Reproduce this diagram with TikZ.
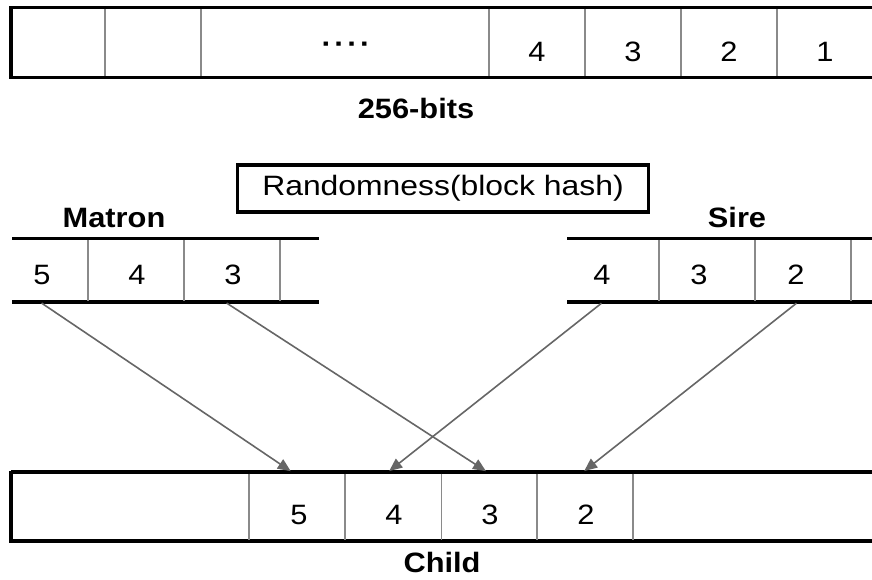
\documentclass[tikz,border=0pt]{standalone}
\usepackage{fontspec}
\usepackage{graphicx}
\setmainfont{Liberation Sans}[FakeStretch=1.1]
\usetikzlibrary{arrows.meta}
\definecolor{divgray}{HTML}{8A8A8A}
\definecolor{arrgray}{HTML}{666666}
\begin{document}
\begin{tikzpicture}[x=1pt,y=-1pt,
  bar/.style={line width=3.3pt, black},
  divider/.style={line width=1.2pt, divgray},
  digit/.style={anchor=base, inner sep=0pt, font=\fontsize{28}{30}\selectfont},
  boldtext/.style={anchor=base, inner sep=0pt, font=\fontsize{28}{30}\selectfont\bfseries},
  cellbox/.style={inner sep=0pt, outer sep=0pt, minimum width=96pt},
  arr/.style={line width=1.6pt, arrgray, shorten <=2pt, shorten >=1.5pt,
    -{Triangle[length=13pt,width=11pt]}},
]
\useasboundingbox (0,0) rectangle (872,579);

% ---------- top 256-bit bar ----------
\draw[bar] (11,7.5) -- (872,7.5);
\draw[bar] (11,77.5) -- (872,77.5);
\draw[bar] (11,6) -- (11,79);
\foreach \x in {105,201,489,585,681,777} \draw[divider] (\x,9) -- (\x,76);
\node[digit] (t4) at (537,61) {4};
\node[digit] (t3) at (633,61) {3};
\node[digit] (t2) at (729,61) {2};
\node[digit] (t1) at (825,61) {1};
\node[boldtext] (tdots) at (346,53) {·\kern2.6pt·\kern2.6pt·\kern2.6pt·};
\node[boldtext] (bits) at (416,118) {256-bits};

% ---------- randomness box ----------
\node[draw, line width=3.3pt, inner sep=0pt, minimum width=411pt, minimum height=47pt,
  font=\fontsize{28}{30}\selectfont] (rand) at (443,188.5)
  {\scalebox{1.035}[1]{Randomness(block hash)}};

% ---------- matron ----------
\node[boldtext] (matron) at (114,227) {Matron};
\draw[bar] (12,238.5) -- (319,238.5);
\draw[bar] (12,302) -- (319,302);
\foreach \x in {88,184,280} \draw[divider] (\x,240) -- (\x,300.5);
\node[cellbox, minimum height=63.5pt] (m5) at (41,270.25) {};
\node[cellbox, minimum height=63.5pt] (m4) at (136,270.25) {};
\node[cellbox, minimum height=63.5pt] (m3) at (232,270.25) {};
\node[digit] (m5t) at (42,284) {5};
\node[digit] (m4t) at (137,284) {4};
\node[digit] (m3t) at (233,284) {3};

% ---------- sire ----------
\node[boldtext] (sire) at (737,227) {Sire};
\draw[bar] (567,238.5) -- (872,238.5);
\draw[bar] (567,302) -- (872,302);
\foreach \x in {659,755,851} \draw[divider] (\x,240) -- (\x,300.5);
\node[cellbox, minimum height=63.5pt] (s4) at (613,270.25) {};
\node[cellbox, minimum height=63.5pt] (s3) at (707,270.25) {};
\node[cellbox, minimum height=63.5pt] (s2) at (803,270.25) {};
\node[digit] (s4t) at (602,284) {4};
\node[digit] (s3t) at (699,284) {3};
\node[digit] (s2t) at (796,284) {2};

% ---------- child ----------
\draw[bar] (11,472) -- (872,472);
\draw[bar] (11,541) -- (872,541);
\draw[bar] (11,470.5) -- (11,542.5);
\foreach \x in {249,345,441.5,537,633} \draw[divider] (\x,473.5) -- (\x,539.5);
\node[cellbox, minimum height=69pt] (c5) at (297,506.5) {};
\node[cellbox, minimum height=69pt] (c4) at (393,506.5) {};
\node[cellbox, minimum height=69pt] (c3) at (489.25,506.5) {};
\node[cellbox, minimum height=69pt] (c2) at (585,506.5) {};
\node[digit] (c5t) at (299,524) {5};
\node[digit] (c4t) at (394,524) {4};
\node[digit] (c3t) at (490,524) {3};
\node[digit] (c2t) at (586,524) {2};
\node[boldtext] (child) at (442,572) {Child};

% ---------- arrows ----------
\draw[arr] ([xshift=-1pt]m5.south) -- ([xshift=-5pt]c5.north);
\draw[arr] ([xshift=-7pt]m3.south) -- ([xshift=-2pt]c3.north);
\draw[arr] ([xshift=-10pt]s4.south) -- ([xshift=-5pt]c4.north);
\draw[arr] ([xshift=-5pt]s2.south) -- ([xshift=-2pt]c2.north);
\end{tikzpicture}
\end{document}
